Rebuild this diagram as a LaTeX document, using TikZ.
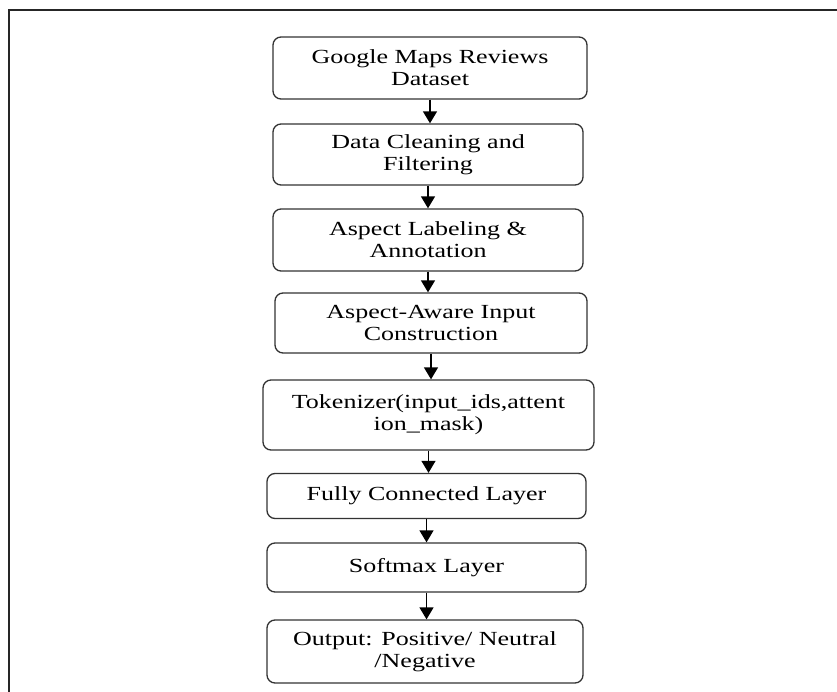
\documentclass[tikz,border=0pt]{standalone}
\usepackage{fontspec}
\setmainfont[FakeStretch=1.3]{Liberation Serif}
\usetikzlibrary{arrows.meta}
\begin{document}
\begin{tikzpicture}[x=1pt,y=-1pt,
  stepbox/.style={draw=black!80,line width=1.3pt,rounded corners=8pt,align=center,
    inner sep=0pt,font=\fontsize{20}{22}\selectfont,text=black},
  arr/.style={draw=black,line width=1.4pt,-{Triangle[width=14pt,length=12pt]}},
  frameline/.style={draw=black!85,line width=1.5pt}]
\useasboundingbox (0,0) rectangle (837,692);
\coordinate (fbl) at (9,692);
\coordinate (ftl) at (9,10);
\coordinate (ftr) at (837,10);
\draw[frameline] (fbl) -- (ftl) -- (ftr);
\node[stepbox,minimum width=314pt,minimum height=62pt] (b1) at (430,68) {Google Maps Reviews\\Dataset};
\node[stepbox,minimum width=310pt,minimum height=61pt] (b2) at (428,154.5) {Data Cleaning and\\Filtering};
\node[stepbox,minimum width=310pt,minimum height=62pt] (b3) at (428,240) {Aspect Labeling \&\\Annotation};
\node[stepbox,minimum width=312pt,minimum height=60pt] (b4) at (431,323) {Aspect-Aware Input\\Construction};
\node[stepbox,minimum width=331pt,minimum height=70pt] (b5) at (428.5,415) {Tokenizer(input\_ids,attent\\ion\_mask)};
\node[stepbox,minimum width=319pt,minimum height=45pt] (b6) at (426.5,496) {Fully Connected Layer};
\node[stepbox,minimum width=319pt,minimum height=49pt] (b7) at (426.5,567.5) {Softmax Layer};
\node[stepbox,minimum width=316pt,minimum height=63pt] (b8) at (425,651.5) {Output: Positive/ Neutral\\/Negative};
\draw[arr] (b1.south) -- (b1.south |- b2.north);
\draw[arr] (b2.south) -- (b2.south |- b3.north);
\draw[arr] (b3.south) -- (b3.south |- b4.north);
\draw[arr] (b4.south) -- (b4.south |- b5.north);
\draw[arr] (b5.south) -- (b5.south |- b6.north);
\draw[arr] (b6.south) -- (b6.south |- b7.north);
\draw[arr] (b7.south) -- (b7.south |- b8.north);
\end{tikzpicture}
\end{document}
